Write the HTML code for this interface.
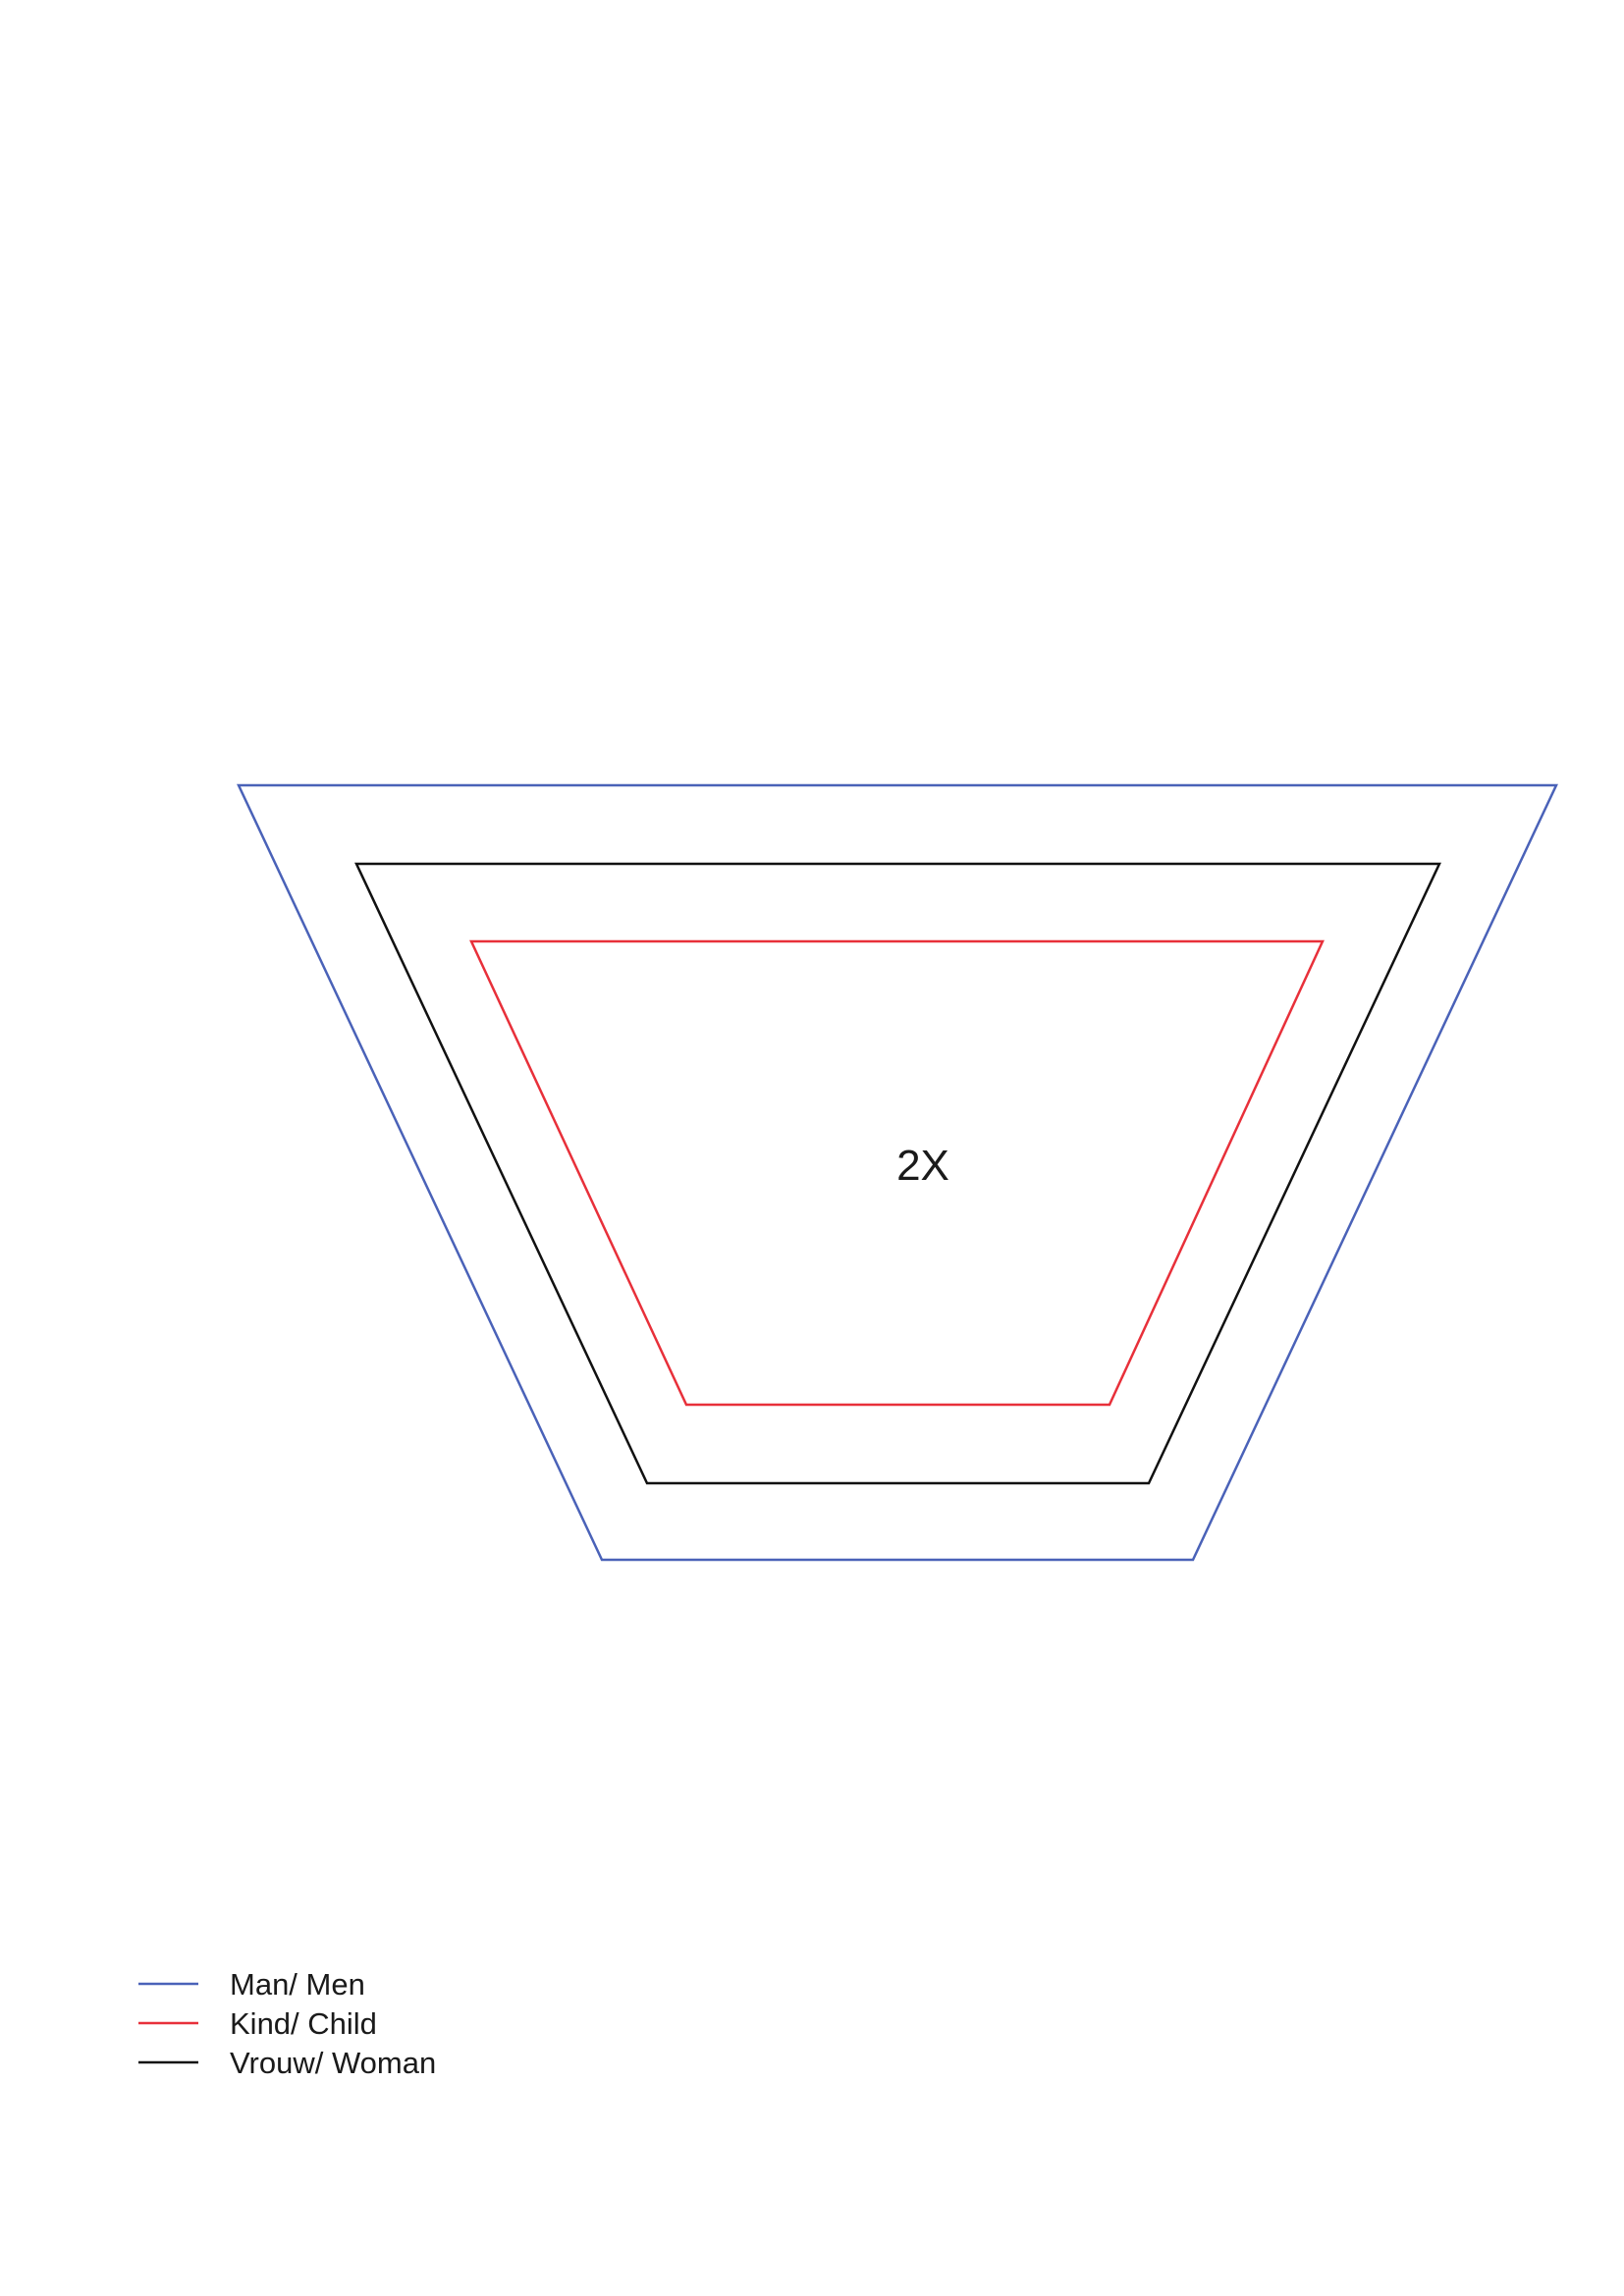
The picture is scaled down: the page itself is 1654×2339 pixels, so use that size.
<!DOCTYPE html>
<html><head><meta charset="utf-8"><style>
html,body{margin:0;padding:0;background:#fff;}
svg{display:block;}
text{font-family:"Liberation Sans",sans-serif;fill:#1a1a1a;}
</style></head><body>
<svg id="chart" width="1654" height="2339" viewBox="0 0 1654 2339"></svg>
<script>
const sizes = ["Man/ Men", "Vrouw/ Woman", "Kind/ Child"];
const colors = ["#4a62b8", "#111111", "#e8303a"];
// trapezoid outlines: [topLeftX, topRightX, bottomLeftX, bottomRightX, topY, bottomY]
const topLeft = [243, 363, 480];
const topRight = [1585, 1466, 1347];
const bottomLeft = [613, 659, 699];
const bottomRight = [1215, 1170, 1130];
const topY = [800, 880, 959];
const bottomY = [1589, 1511, 1431];
const legendOrder = [0, 2, 1];
const ns = "http://www.w3.org/2000/svg";
const svg = document.getElementById("chart");
for (let i = 0; i < sizes.length; i++) {
  const p = document.createElementNS(ns, "polygon");
  p.setAttribute("points", `${topLeft[i]},${topY[i]} ${topRight[i]},${topY[i]} ${bottomRight[i]},${bottomY[i]} ${bottomLeft[i]},${bottomY[i]}`);
  p.setAttribute("fill", "none");
  p.setAttribute("stroke", colors[i]);
  p.setAttribute("stroke-width", "2.5");
  
  
  svg.appendChild(p);
}
const t = document.createElementNS(ns, "text");
t.setAttribute("x", 940); t.setAttribute("y", 1202);
t.setAttribute("text-anchor", "middle"); t.setAttribute("font-size", "44");
t.textContent = "2X";


svg.appendChild(t);
legendOrder.forEach((idx, k) => {
  const y = 2021 + k * 40;
  const l = document.createElementNS(ns, "line");
  l.setAttribute("x1", 141); l.setAttribute("x2", 202);
  l.setAttribute("y1", y); l.setAttribute("y2", y);
  l.setAttribute("stroke", colors[idx]); l.setAttribute("stroke-width", "2.5");
  
  
  svg.appendChild(l);
  const tx = document.createElementNS(ns, "text");
  tx.setAttribute("x", 234); tx.setAttribute("y", y + 11);
  tx.setAttribute("font-size", "31");
  tx.textContent = sizes[idx];
  
  
  svg.appendChild(tx);
});
</script>
</body></html>
